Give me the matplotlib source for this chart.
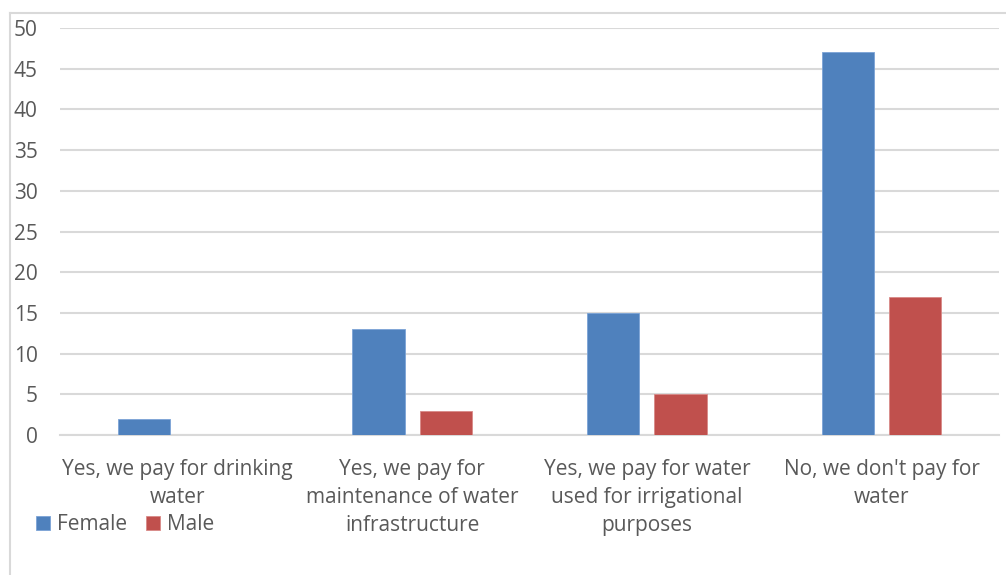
import matplotlib.pyplot as plt
import numpy as np
from matplotlib.lines import Line2D

categories = [
    "Yes, we pay for drinking\nwater",
    "Yes, we pay for\nmaintenance of water\ninfrastructure",
    "Yes, we pay for water\nused for irrigational\npurposes",
    "No, we don't pay for\nwater",
]
female = [2, 13, 15, 47]
male = [0, 3, 5, 17]

blue = "#4F81BD"
red = "#C0504D"
grey_txt = "#595959"
grid_c = "#D9D9D9"

plt.rcParams['font.family'] = ['Open Sans', 'DejaVu Sans']

W, H = 1006, 575
fig = plt.figure(figsize=(W / 100, H / 100), dpi=100)
ax = fig.add_axes([60 / W, (H - 435) / H, (999 - 60) / W, (435 - 28) / H])

x = np.arange(len(categories))
bw = 0.222
off = 0.143
ax.bar(x - off, female, bw, color=blue, edgecolor="#7BA3D6", linewidth=0.6, label="Female", zorder=3)
ax.bar(x + off, male, bw, color=red, edgecolor="#D98A88", linewidth=0.6, label="Male", zorder=3)

ax.set_xlim(-0.5, 3.5)
ax.set_ylim(0, 50)
ax.set_yticks(np.arange(0, 51, 5))
ax.yaxis.grid(True, color=grid_c, linewidth=1.5, zorder=0)
ax.set_axisbelow(True)
for s in ["top", "right", "left"]:
    ax.spines[s].set_visible(False)
ax.spines["bottom"].set_color(grid_c)
ax.spines["bottom"].set_linewidth(1.5)

ax.set_xticks(x)
ax.set_xticklabels(categories, fontsize=15, color=grey_txt, linespacing=1.45)
ax.tick_params(axis="x", length=0, pad=17)
ax.tick_params(axis="y", length=0, pad=16, labelsize=15, labelcolor=grey_txt)

# chart border (only top and left edges are inside the frame)
fig.add_artist(Line2D([10 / W, 1.0], [1 - 13 / H, 1 - 13 / H], color=grid_c, linewidth=1.5))
fig.add_artist(Line2D([10 / W, 10 / W], [0, 1 - 13 / H], color=grid_c, linewidth=1.5))

fig.legend(loc="upper left", bbox_to_anchor=(28 / W, 1 - 506 / H), ncol=2, frameon=False,
           fontsize=15, labelcolor=grey_txt, handlelength=0.65, handleheight=0.65,
           handletextpad=0.35, columnspacing=0.9, borderaxespad=0)

fig.savefig("out.png", dpi=100)
